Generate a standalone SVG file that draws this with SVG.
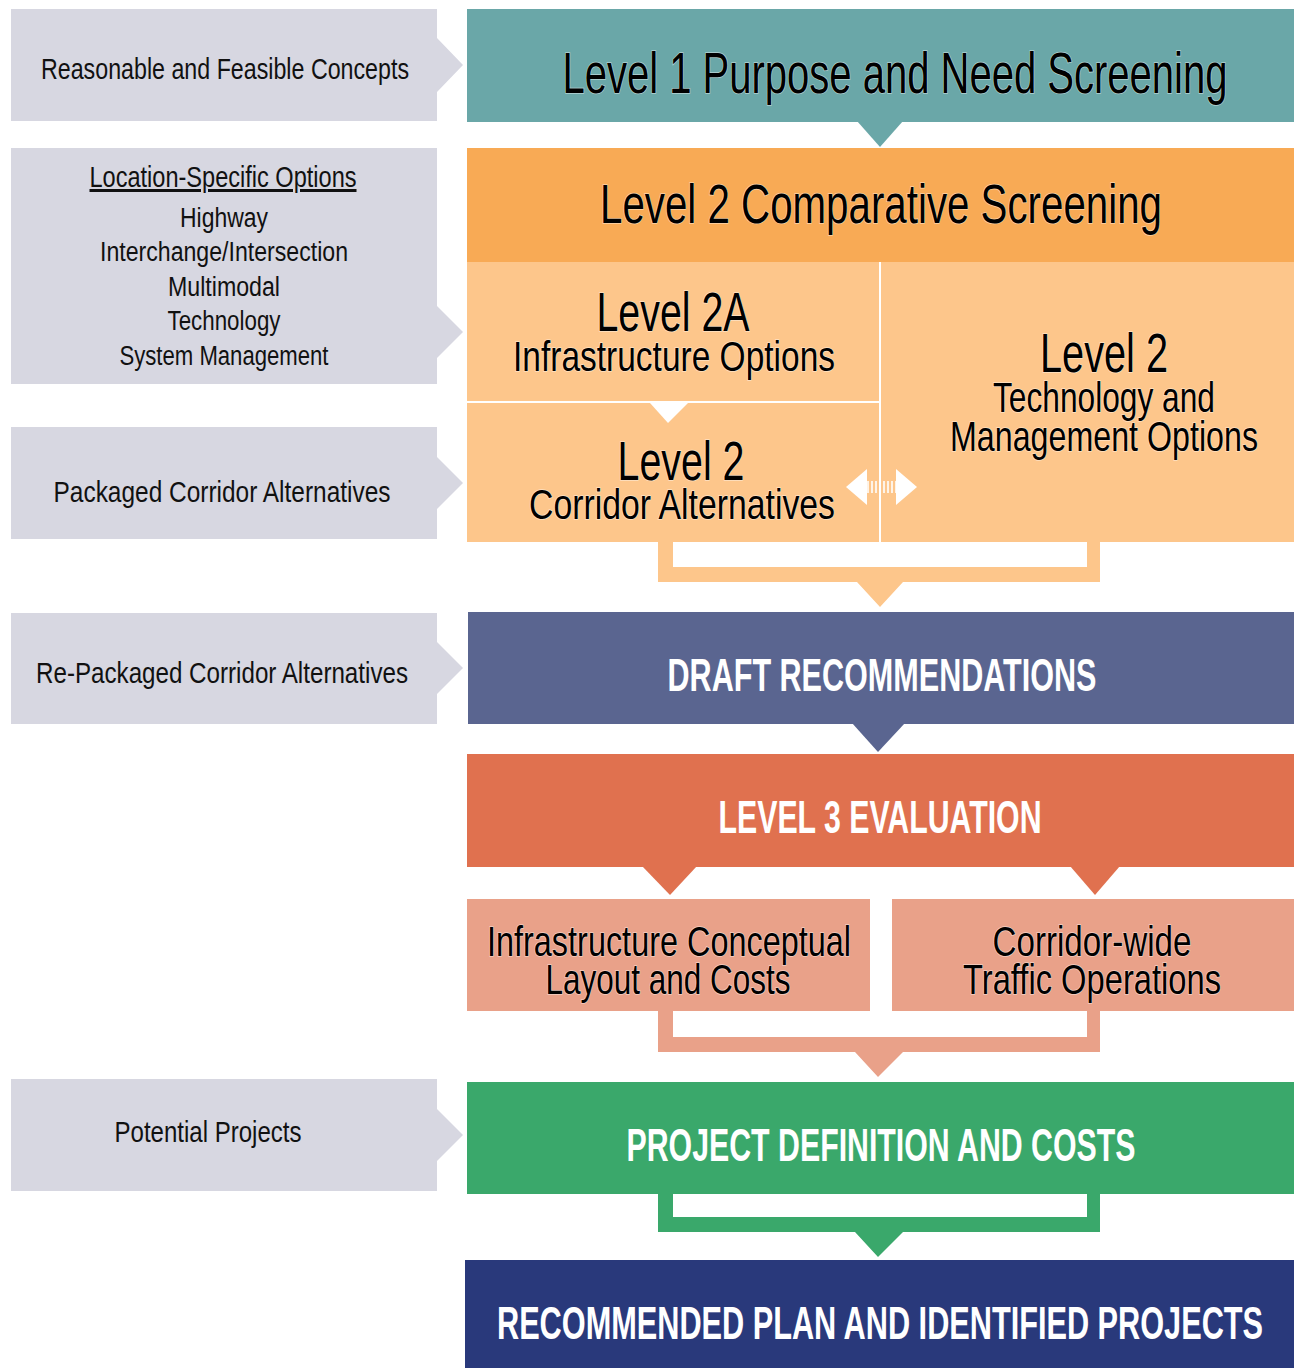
<svg xmlns="http://www.w3.org/2000/svg" width="1294" height="1368" viewBox="0 0 1294 1368">
<style>
.lbox{fill:#d7d7e1}
.lt{font-family:"Liberation Sans",Arial,sans-serif;font-size:30px;fill:#111;text-anchor:middle}
.lt2{font-family:"Liberation Sans",Arial,sans-serif;font-size:27px;fill:#111;text-anchor:middle}
.big{font-family:"Liberation Sans",Arial,sans-serif;fill:#000;text-anchor:middle;stroke:#fff;stroke-width:1.5;stroke-opacity:0.5;paint-order:stroke}
.wh{font-family:"Liberation Sans",Arial,sans-serif;font-weight:bold;fill:#fff;text-anchor:middle}
.teal{fill:#6aa7a8}
.orh{fill:#f8aa55}
.orl{fill:#fdc68b}
.slate{fill:#5a6590}
.red{fill:#e0714f}
.sal{fill:#e9a189}
.grn{fill:#3aa86b}
.navy{fill:#29397b}
</style>
<rect width="1294" height="1368" fill="#fff"/>

<g id="left-reasonable">
<path class="lbox" d="M11,9H437V38L463,65L437,92V121H11Z"/>
<text class="lt" x="225" y="79" textLength="368" lengthAdjust="spacingAndGlyphs">Reasonable and Feasible Concepts</text>
</g>
<g id="left-location">
<path class="lbox" d="M11,148H437V306L463,332L437,358V384H11Z"/>
<text class="lt" x="223" y="187" textLength="267" lengthAdjust="spacingAndGlyphs" text-decoration="underline">Location-Specific Options</text>
<text class="lt2" x="224" y="227" textLength="88" lengthAdjust="spacingAndGlyphs">Highway</text>
<text class="lt2" x="224" y="261" textLength="248" lengthAdjust="spacingAndGlyphs">Interchange/Intersection</text>
<text class="lt2" x="224" y="296" textLength="112" lengthAdjust="spacingAndGlyphs">Multimodal</text>
<text class="lt2" x="224" y="330" textLength="113" lengthAdjust="spacingAndGlyphs">Technology</text>
<text class="lt2" x="224" y="365" textLength="209" lengthAdjust="spacingAndGlyphs">System Management</text>
</g>
<g id="left-packaged">
<path class="lbox" d="M11,427H437V457L463,483L437,509V539H11Z"/>
<text class="lt" x="222" y="502" textLength="337" lengthAdjust="spacingAndGlyphs">Packaged Corridor Alternatives</text>
</g>
<g id="left-repackaged">
<path class="lbox" d="M11,613H437V642L463,668L437,694V724H11Z"/>
<text class="lt" x="222" y="683" textLength="372" lengthAdjust="spacingAndGlyphs">Re-Packaged Corridor Alternatives</text>
</g>
<g id="left-potential">
<path class="lbox" d="M11,1079H437V1109L463,1135L437,1161V1191H11Z"/>
<text class="lt" x="208" y="1142" textLength="187" lengthAdjust="spacingAndGlyphs">Potential Projects</text>
</g>

<g id="level1">
<rect class="teal" x="467" y="9" width="827" height="113"/>
<text class="big" x="895" y="93" font-size="57" textLength="665" lengthAdjust="spacingAndGlyphs">Level 1 Purpose and Need Screening</text>
</g>

<g id="level2">
<rect class="orh" x="467" y="148" width="827" height="114"/>
<text class="big" x="881" y="223" font-size="55" textLength="562" lengthAdjust="spacingAndGlyphs">Level 2 Comparative Screening</text>
<rect class="orl" x="467" y="262" width="827" height="280"/>
</g>
<g id="level2a">
<text class="big" x="673" y="331" font-size="56" textLength="153" lengthAdjust="spacingAndGlyphs">Level 2A</text>
<text class="big" x="674" y="371" font-size="42" textLength="322" lengthAdjust="spacingAndGlyphs">Infrastructure Options</text>
</g>
<g id="level2-corridor">
<text class="big" x="681" y="480" font-size="56" textLength="127" lengthAdjust="spacingAndGlyphs">Level 2</text>
<text class="big" x="682" y="519" font-size="42" textLength="306" lengthAdjust="spacingAndGlyphs">Corridor Alternatives</text>
</g>
<g id="level2-tech">
<text class="big" x="1104" y="372" font-size="56" textLength="128" lengthAdjust="spacingAndGlyphs">Level 2</text>
<text class="big" x="1104" y="412" font-size="42" textLength="222" lengthAdjust="spacingAndGlyphs">Technology and</text>
<text class="big" x="1104" y="451" font-size="42" textLength="308" lengthAdjust="spacingAndGlyphs">Management Options</text>
</g>

<g id="draft">
<rect class="slate" x="468" y="612" width="826" height="112"/>
<text class="wh" x="882" y="691" font-size="47" textLength="429" lengthAdjust="spacingAndGlyphs">DRAFT RECOMMENDATIONS</text>
</g>

<g id="level3">
<rect class="red" x="467" y="754" width="827" height="113"/>
<text class="wh" x="880" y="833" font-size="47" textLength="323" lengthAdjust="spacingAndGlyphs">LEVEL 3 EVALUATION</text>
</g>
<g id="infra-layout">
<rect class="sal" x="467" y="899" width="403" height="112"/>
<text class="big" x="669" y="956" font-size="42" textLength="364" lengthAdjust="spacingAndGlyphs">Infrastructure Conceptual</text>
<text class="big" x="668" y="994" font-size="42" textLength="245" lengthAdjust="spacingAndGlyphs">Layout and Costs</text>
</g>
<g id="traffic-ops">
<rect class="sal" x="892" y="899" width="402" height="112"/>
<text class="big" x="1092" y="956" font-size="42" textLength="199" lengthAdjust="spacingAndGlyphs">Corridor-wide</text>
<text class="big" x="1092" y="994" font-size="42" textLength="258" lengthAdjust="spacingAndGlyphs">Traffic Operations</text>
</g>

<g id="project-def">
<rect class="grn" x="467" y="1082" width="827" height="112"/>
<text class="wh" x="881" y="1161" font-size="47" textLength="509" lengthAdjust="spacingAndGlyphs">PROJECT DEFINITION AND COSTS</text>
</g>

<g id="recommended">
<rect class="navy" x="465" y="1260" width="829" height="108"/>
<text class="wh" x="880" y="1339" font-size="47" textLength="766" lengthAdjust="spacingAndGlyphs">RECOMMENDED PLAN AND IDENTIFIED PROJECTS</text>
</g>

<g id="connectors">
<path class="teal" d="M857,121H903L880,147Z"/>
<line x1="880" y1="262" x2="880" y2="542" stroke="#fff" stroke-width="2"/>
<line x1="467" y1="402" x2="879" y2="402" stroke="#fff" stroke-width="2"/>
<path d="M650,403H688L668,423Z" fill="#fff"/>
<path d="M846,487L867,469V505Z" fill="#fff"/>
<path d="M917,487L896,469V505Z" fill="#fff"/>
<line x1="867" y1="487" x2="896" y2="487" stroke="#fff" stroke-width="12" stroke-dasharray="2,2" opacity="0.8"/>
<path class="orl" d="M658,541H673V567H1087V541H1100V582H903L880,607L857,582H658Z"/>
<path class="slate" d="M852,723H905L878,752Z"/>
<path class="red" d="M642,866H697L670,895Z"/>
<path class="red" d="M1070,866H1120L1095,895Z"/>
<path class="sal" d="M658,1010H673V1037H1087V1010H1100V1052H903L878,1077L855,1052H658Z"/>
<path class="grn" d="M658,1193H673V1217H1087V1193H1100V1232H903L878,1257L855,1232H658Z"/>
</g>
</svg>
